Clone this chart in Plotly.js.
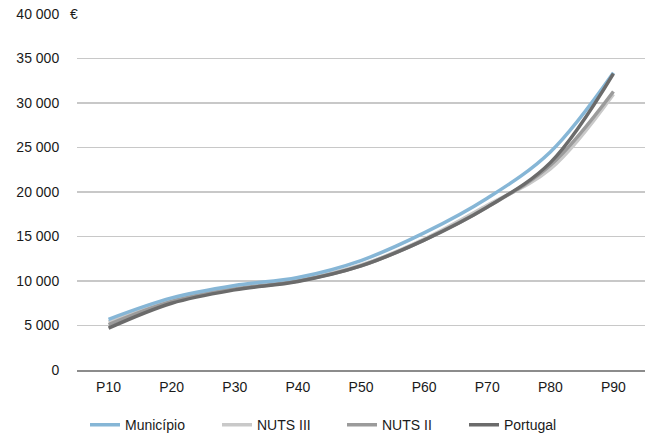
<!DOCTYPE html>
<html>
<head>
<meta charset="utf-8">
<script src="https://cdn.plot.ly/plotly-3.0.1.min.js"></script>
<style>html,body{margin:0;padding:0;background:#fff;}#chart{width:657px;height:434px;}</style>
</head>
<body>
<div id="chart"></div>
<script>
const categories = ["P10","P20","P30","P40","P50","P60","P70","P80","P90"];
const municipio = [5700, 8100, 9500, 10400, 12300, 15400, 19300, 24500, 33400];
const nuts3 = [5400, 7900, 9200, 10100, 11800, 14700, 18500, 22600, 31000];
const nuts2 = [5100, 7700, 9100, 10000, 11700, 14600, 18300, 23000, 31300];
const portugal = [4700, 7500, 9000, 9950, 11700, 14600, 18300, 23300, 33300];
const seriesNames = ["Município", "NUTS III", "NUTS II", "Portugal"];
const tickVals = [0, 5000, 10000, 15000, 20000, 25000, 30000, 35000, 40000];
const tickText = ["0", "5 000", "10 000", "15 000", "20 000", "25 000", "30 000", "35 000", "40 000"];
const colors = ["#86b6d6", "#c9c9c9", "#9b9b9b", "#6b6b6b"];

const allSeries = [municipio, nuts3, nuts2, portugal];
const legendIds = ["legend", "legend2", "legend3", "legend4"];
const legendTextX = [126, 258, 383, 505]; // px where each legend label starts
const order = [1, 2, 0, 3];
const traces = order.map(i => ({
  type: "scatter", mode: "lines", name: seriesNames[i],
  x: categories, y: allSeries[i],
  line: {color: colors[i], width: 3.5, shape: "spline", smoothing: 1},
  legend: legendIds[i]
}));

const ml = 77, mr = 12, W = 657;
const plotW = W - ml - mr;

const layout = {
  width: 657, height: 434,
  margin: {l: ml, r: mr, t: 14, b: 64, autoexpand: false},
  paper_bgcolor: "#fff", plot_bgcolor: "#fff",
  font: {family: "Liberation Sans, Arial, sans-serif", size: 14, color: "#1a1a1a"},
  showlegend: true,
  xaxis: {type: "category", range: [-0.5, 8.5], showgrid: false, zeroline: false,
          showline: true, linecolor: "#8c8c8c", linewidth: 1.5,
          ticks: "outside", ticklen: 4, tickcolor: "rgba(0,0,0,0)", tickfont: {size: 14}},
  yaxis: {range: [0, 40000], tickvals: tickVals, ticktext: tickText,
          showgrid: true, gridcolor: "#c8c8c8", gridwidth: 1.5, zeroline: false,
          showline: false, ticks: "outside", ticklen: 14, tickcolor: "rgba(0,0,0,0)",
          tickfont: {size: 14}},
  annotations: [{text: "€", xref: "paper", yref: "y", x: 0, y: 40000, xanchor: "right",
                 xshift: 3, yanchor: "middle", showarrow: false, font: {size: 14, color: "#1a1a1a"},
                 bgcolor: "rgba(0,0,0,0)"}]
};
legendIds.forEach((id, k) => {
  layout[id] = {orientation: "h", x: (legendTextX[k] - 41 - ml) / plotW, xanchor: "left",
                y: -0.11, yanchor: "top", font: {size: 14}, bgcolor: "rgba(0,0,0,0)"};
});

Plotly.newPlot("chart", traces, layout, {displayModeBar: false, staticPlot: true});
</script>
</body>
</html>
